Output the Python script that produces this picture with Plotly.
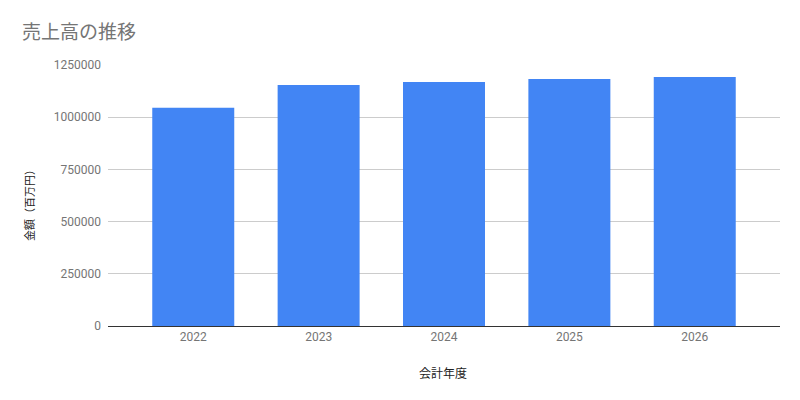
import plotly.graph_objects as go

years = ["2022", "2023", "2024", "2025", "2026"]
sales = [1045000, 1154000, 1168000, 1183000, 1192000]
y_ticks = [0, 250000, 500000, 750000, 1000000, 1250000]

title_text = "売上高の推移"
x_title = "会計年度"
y_title = "金額（百万円）"

font_family = "Roboto, 'Noto Sans CJK JP', sans-serif"

# page renders with an 8px offset; margins compensate
OFF = 8
L, R, T, B = 108 - OFF, 800 + OFF - 780, 65 - OFF, 400 + OFF - 326

fig = go.Figure(go.Bar(x=years, y=sales, marker_color="#4285F4", marker_line_width=0))

fig.update_layout(
    width=800, height=400,
    margin=dict(l=L, r=R, t=T, b=B),
    paper_bgcolor="white", plot_bgcolor="white",
    font=dict(family=font_family, size=12, color="#757575"),
    bargap=0.346,
    showlegend=False,
    title=dict(text=title_text, x=(22 - OFF) / 800, xref="container", xanchor="left",
               y=1 - (32 - OFF) / 400, yref="container", yanchor="middle",
               font=dict(size=19, color="#757575", family=font_family)),
)

fig.update_xaxes(
    type="category", range=[-0.68, 4.68],
    showgrid=False, showline=True, linecolor="#333333", linewidth=1,
    ticks="", tickfont=dict(size=12, color="#757575"),
)
fig.update_yaxes(
    range=[0, 1250000], tickvals=y_ticks, ticktext=[str(v) for v in y_ticks],
    showgrid=True, gridcolor="#cccccc", gridwidth=1,
    zeroline=True, zerolinecolor="#333333", zerolinewidth=1,
    ticks="", tickfont=dict(size=12, color="#757575"), ticklabelstandoff=6,
)

fig.add_annotation(text=x_title, xref="paper", yref="paper", x=(443 - 108) / 672, y=-(373 - 326) / 261,
                   xanchor="center", yanchor="middle", showarrow=False,
                   font=dict(size=12, color="#222222", family=font_family))
fig.add_annotation(text=y_title, xref="paper", yref="paper", x=-(108 - 30) / 672, y=(326 - 203) / 261,
                   xanchor="center", yanchor="middle", showarrow=False, textangle=-90,
                   font=dict(size=11, color="#222222", family=font_family))

fig.write_html("out.html")
